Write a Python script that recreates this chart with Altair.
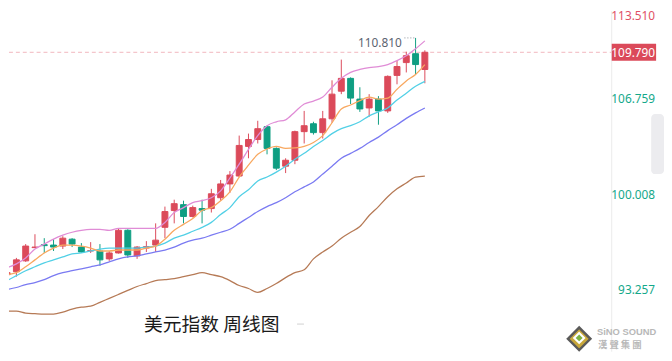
import altair as alt
import pandas as pd

# ---------------- data ----------------
idx = list(range(46))
opens = [94.01, 94.22, 94.99, 95.93, 96.14, 96.11, 96.04, 96.53, 95.97, 95.69,
         95.69, 95.13, 95.55, 97.16, 95.34, 95.90, 96.11, 97.37, 98.56, 98.98,
         98.14, 98.70, 98.70, 99.47, 100.45, 101.01, 103.11, 103.60, 104.51, 102.97,
         101.71, 102.13, 104.16, 104.72, 104.09, 105.07, 107.03, 107.94, 106.47, 105.84,
         106.47, 105.63, 108.15, 109.06, 109.69, 108.57]
highs = [94.57, 95.20, 96.18, 96.88, 96.60, 96.53, 96.74, 96.60, 96.25, 96.32,
         96.18, 95.69, 97.30, 97.23, 96.04, 96.39, 97.65, 98.84, 99.33, 99.26,
         98.91, 99.33, 100.10, 100.73, 101.36, 103.88, 104.02, 104.93, 104.58, 103.04,
         102.27, 104.23, 105.63, 104.86, 105.63, 107.80, 109.27, 108.01, 107.31, 106.82,
         106.68, 108.15, 109.20, 109.83, 110.81, 109.93]
lows = [93.80, 93.87, 94.92, 95.90, 95.55, 95.69, 95.83, 95.97, 95.55, 95.55,
        94.64, 94.99, 95.51, 95.20, 95.13, 95.62, 95.62, 96.60, 97.65, 97.65,
        98.07, 97.65, 98.42, 99.26, 99.82, 100.94, 102.27, 103.32, 102.55, 101.43,
        101.22, 101.85, 103.32, 103.95, 103.67, 104.79, 106.82, 106.12, 105.56, 105.21,
        104.65, 105.49, 107.52, 108.36, 108.22, 107.59]
closes = [94.15, 95.06, 96.04, 95.97, 96.07, 95.97, 96.60, 96.18, 95.62, 95.72,
          95.06, 95.55, 97.16, 95.41, 95.97, 96.00, 96.46, 98.49, 99.05, 98.14,
          98.77, 98.59, 99.75, 100.45, 101.08, 103.18, 103.60, 104.37, 102.97, 101.57,
          102.13, 104.16, 104.58, 104.09, 105.07, 106.82, 107.94, 106.54, 105.77, 106.47,
          105.63, 108.08, 108.78, 109.55, 108.92, 109.79]

ma_pink = [94.50, 94.78, 95.20, 95.83, 96.18, 96.53, 96.81, 97.02, 97.16, 97.23,
           97.23, 97.16, 97.30, 97.30, 97.30, 97.30, 97.30, 97.72, 98.42, 98.77,
           99.12, 99.26, 99.47, 99.96, 100.87, 101.85, 102.90, 103.88, 104.58, 104.86,
           105.00, 105.56, 106.12, 106.33, 106.61, 107.31, 107.94, 108.36, 108.57, 108.71,
           108.78, 108.92, 109.20, 109.55, 110.04, 110.60]
ma_orange = [94.01, 94.15, 94.57, 95.06, 95.55, 95.90, 96.11, 96.11, 96.04, 95.90,
             95.69, 95.69, 95.76, 95.76, 95.76, 95.90, 96.04, 96.53, 97.16, 97.58,
             98.00, 98.56, 98.77, 99.26, 99.89, 100.94, 101.78, 102.55, 102.93, 103.11,
             102.97, 103.00, 103.11, 103.39, 103.88, 104.79, 105.77, 106.05, 106.36, 106.61,
             106.47, 106.54, 107.17, 107.76, 108.22, 108.92]
ma_cyan = [93.59, 93.94, 94.29, 94.57, 94.85, 95.06, 95.27, 95.48, 95.55, 95.69,
           95.83, 95.90, 95.90, 95.90, 95.90, 95.97, 96.04, 96.25, 96.60, 96.81,
           97.09, 97.37, 97.72, 98.28, 98.77, 99.54, 100.03, 100.66, 100.94, 101.29,
           101.71, 102.20, 102.62, 103.11, 103.53, 104.02, 104.37, 104.58, 104.86, 105.28,
           105.56, 105.84, 106.40, 106.89, 107.38, 107.73]
ma_blue = [92.96, 93.10, 93.31, 93.45, 93.66, 93.94, 94.15, 94.29, 94.43, 94.57,
           94.71, 94.92, 95.13, 95.27, 95.34, 95.48, 95.62, 95.76, 95.97, 96.25,
           96.46, 96.60, 96.81, 97.02, 97.23, 97.65, 98.07, 98.49, 98.84, 99.12,
           99.47, 99.89, 100.24, 100.59, 101.15, 101.71, 102.27, 102.62, 102.97, 103.39,
           103.77, 104.23, 104.65, 105.10, 105.49, 105.84]
ma_brown = [91.42, 91.42, 91.28, 91.24, 91.21, 91.21, 91.35, 91.56, 91.70, 91.77,
            92.05, 92.33, 92.61, 92.89, 93.17, 93.38, 93.59, 93.66, 93.73, 93.87,
            94.01, 94.15, 94.01, 93.87, 93.59, 93.24, 93.03, 92.75, 93.03, 93.38,
            93.80, 94.15, 94.36, 95.13, 95.62, 96.04, 96.60, 97.02, 97.43, 98.21,
            98.84, 99.54, 100.10, 100.52, 100.94, 101.01]

axis_labels = ["106.759", "100.008", "93.257"]
axis_values = [106.759, 100.008, 93.257]
top_label = "113.510"
last_price = 109.790
last_label = "109.790"
peak_index = 44
peak_value = 110.810
peak_label = "110.810"
title_text = "美元指数 周线图"

# ---------------- styling ----------------
RED = "#db4a5a"
GREEN = "#0f9e82"
W, H = 656, 345
PLOT_W = 611

xs = alt.Scale(domain=[0.7325, 69.38], nice=False, zero=False)
ys = alt.Scale(domain=[88.545, 112.695], nice=False, zero=False)


def X(f):
    return alt.X(f, type="quantitative", scale=xs, axis=None)


def Y(f):
    return alt.Y(f, type="quantitative", scale=ys, axis=None)


cdf = pd.DataFrame({"i": idx, "open": opens, "high": highs, "low": lows, "close": closes})
cdf["dir"] = ["up" if c >= o else "down" for o, c in zip(opens, closes)]
cscale = alt.Scale(domain=["up", "down"], range=[RED, GREEN])

one = pd.DataFrame({"a": [0]})

price_df = pd.DataFrame({"p": [last_price], "lab": [last_label],
                         "top": [last_price + 0.6], "bot": [last_price - 0.6]})
price_rule = alt.Chart(price_df).mark_rule(color="#f2b6be", strokeDash=[4, 3], strokeWidth=1).encode(
    y=Y("p"), x=alt.value(0), x2=alt.value(PLOT_W))

sep = alt.Chart(one).mark_rule(color="#ebebeb", strokeWidth=1).encode(
    x=alt.value(PLOT_W), y=alt.value(0), y2=alt.value(H))

wicks = alt.Chart(cdf).mark_rule(strokeWidth=1, clip=True).encode(
    x=X("i"), y=Y("low"), y2="high",
    color=alt.Color("dir:N", scale=cscale, legend=None))

bodies = alt.Chart(cdf).mark_bar(size=6, strokeWidth=1, clip=True).encode(
    x=X("i"), y=Y("open"), y2="close",
    fill=alt.Fill("dir:N", scale=cscale, legend=None),
    stroke=alt.Stroke("dir:N", scale=cscale, legend=None))

lines = []
for vals, col in [(ma_brown, "#b67a56"), (ma_blue, "#7a7af2"), (ma_cyan, "#52d0e6"),
                  (ma_orange, "#f8a860"), (ma_pink, "#e08cd6")]:
    ldf = pd.DataFrame({"i": idx, "v": vals})
    lines.append(alt.Chart(ldf).mark_line(color=col, strokeWidth=1.3, clip=True,
                                          interpolate="monotone").encode(x=X("i"), y=Y("v")))

# peak annotation
peak_df = pd.DataFrame({"i": [peak_index], "i0": [peak_index - 1.2], "v": [peak_value], "lab": [peak_label]})
peak_rule = alt.Chart(peak_df).mark_rule(color="#8a8f99", strokeDash=[1, 2], strokeWidth=1).encode(
    x=X("i0"), x2="i", y=Y("v"))
peak_text = alt.Chart(peak_df).mark_text(align="right", baseline="middle", dx=-14, dy=5,
                                         font="Noto Sans", fontSize=12, color="#5c6370").encode(
    x=X("i"), y=Y("v"), text="lab:N")

# right side labels
lab_df = pd.DataFrame({"v": axis_values, "lab": axis_labels})
lab_text = alt.Chart(lab_df).mark_text(align="right", baseline="middle", dy=4.5,
                                       font="Noto Sans", fontSize=12, color="#14a88a").encode(
    x=alt.value(W - 1), y=Y("v"), text="lab:N")
top_text = alt.Chart(pd.DataFrame({"lab": [top_label]})).mark_text(
    align="right", baseline="middle", font="Noto Sans", fontSize=12, color="#e05066").encode(
    x=alt.value(W - 1), y=alt.value(5), text="lab:N")

price_box = alt.Chart(price_df).mark_rect(color=RED).encode(
    x=alt.value(PLOT_W), x2=alt.value(W), y=Y("top"), y2="bot")
price_text = alt.Chart(price_df).mark_text(align="right", baseline="middle", dy=1,
                                           font="Noto Sans", fontSize=12, color="white").encode(
    x=alt.value(W - 1), y=Y("p"), text="lab:N")

panel = alt.Chart(one).mark_rect(color="#ececef", cornerRadius=4).encode(
    x=alt.value(651), x2=alt.value(664), y=alt.value(104), y2=alt.value(165))

title = alt.Chart(pd.DataFrame({"t": [title_text]})).mark_text(
    align="center", baseline="middle", font="Noto Sans CJK SC", fontSize=19, color="#1a1a1a").encode(
    x=alt.value(205.5), y=alt.value(318), text="t:N")
dash = alt.Chart(one).mark_rule(color="#d0d0d0", strokeWidth=1).encode(
    x=alt.value(292), x2=alt.value(299), y=alt.value(317))

# logo
logo_outer = alt.Chart(one).mark_point(shape="diamond", filled=True, size=520, color="#c9a83a",
                                       stroke="#5a5a5a", strokeWidth=2.5, opacity=1).encode(
    x=alt.value(578), y=alt.value(332))
logo_inner = alt.Chart(one).mark_point(shape="diamond", filled=True, size=170, color="#ffffff",
                                       opacity=1).encode(x=alt.value(578), y=alt.value(331))
logo_core = alt.Chart(one).mark_point(shape="diamond", filled=True, size=50, color="#7cb342",
                                      opacity=1).encode(x=alt.value(578), y=alt.value(331))
logo_t1 = alt.Chart(pd.DataFrame({"t": ["SiNO SOUND"]})).mark_text(
    align="left", baseline="middle", font="Liberation Sans", fontSize=9.5, fontWeight="bold",
    color="#b8b8b8").encode(x=alt.value(596), y=alt.value(325), text="t:N")
logo_t2 = alt.Chart(pd.DataFrame({"t": ["漢 聲 集 團"]})).mark_text(
    align="left", baseline="middle", font="Noto Sans CJK TC", fontSize=9.5, fontWeight="bold",
    color="#b8b8b8").encode(x=alt.value(597), y=alt.value(338), text="t:N")

chart = alt.layer(
    price_rule, sep, wicks, bodies, *lines, peak_rule, peak_text,
    price_box, price_text, lab_text, top_text, panel, title, dash,
    logo_outer, logo_inner, logo_core, logo_t1, logo_t2
).properties(width=W, height=H, padding=0, background="white").configure_view(stroke=None)

chart.save("out.html", embed_options={"renderer": "svg", "actions": False})
